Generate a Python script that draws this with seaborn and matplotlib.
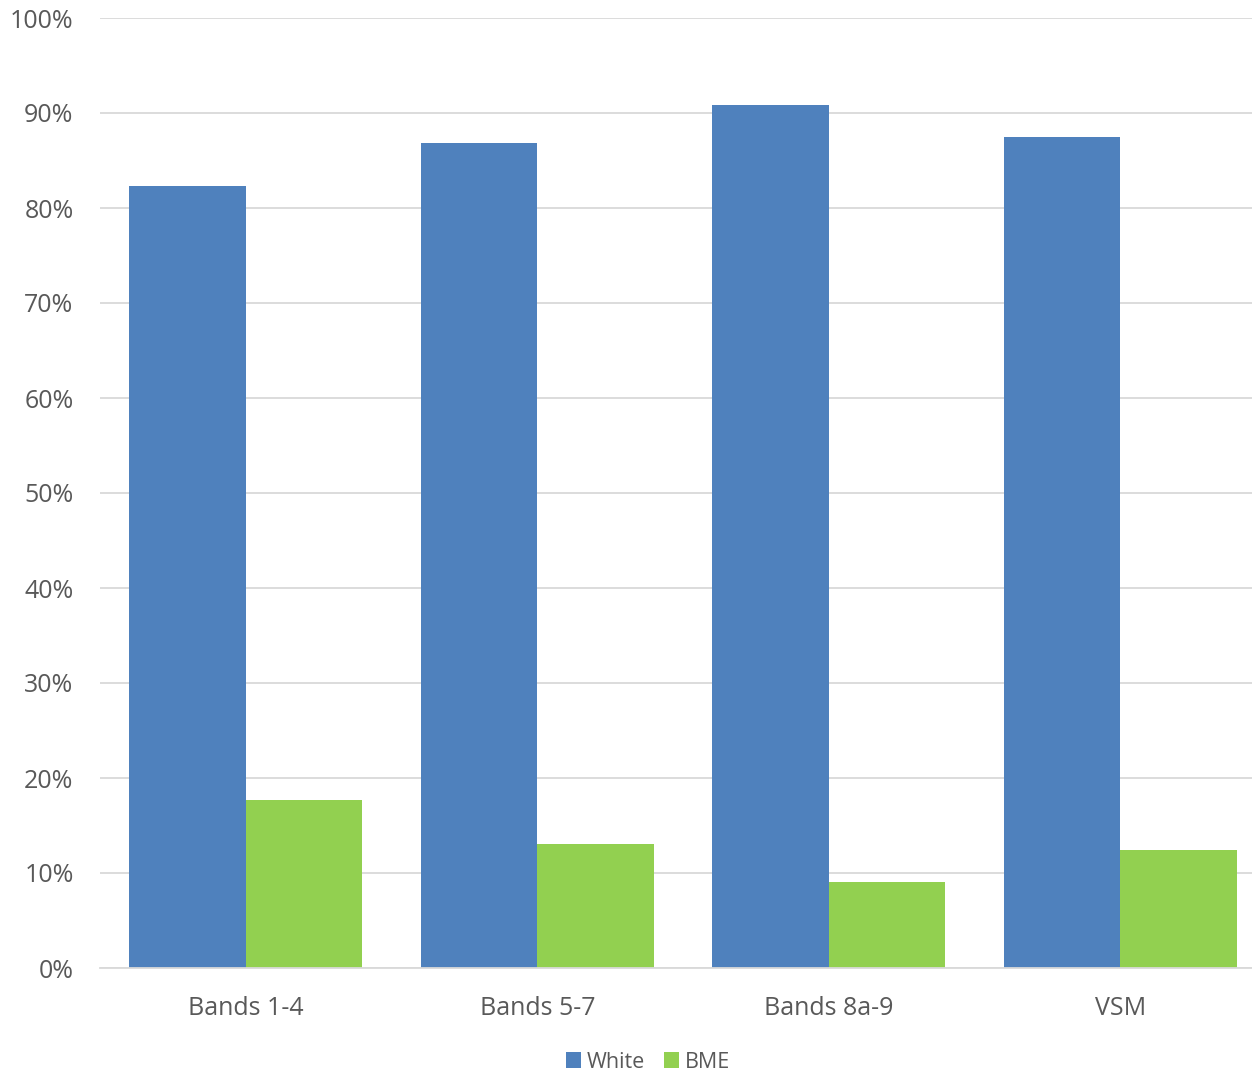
import pandas as pd
import numpy as np
import seaborn as sns
import matplotlib.pyplot as plt
from matplotlib.ticker import PercentFormatter

# data
categories = ['Bands 1-4', 'Bands 5-7', 'Bands 8a-9', 'VSM']
white = [82.3, 86.8, 90.8, 87.5]
bme = [17.7, 13.1, 9.1, 12.4]

df = pd.DataFrame({
    'band': categories * 2,
    'group': ['White'] * 4 + ['BME'] * 4,
    'value': white + bme,
})

sns.set_style('white')
plt.rcParams['font.family'] = ['Open Sans', 'DejaVu Sans']

fig = plt.figure(figsize=(12.52, 10.73), dpi=100)
# plot area runs a little past the right edge, as in the original
ax = fig.add_axes([100 / 1252, 1 - 968 / 1073, 1166 / 1252, 950 / 1073])

sns.barplot(data=df, x='band', y='value', hue='group', order=categories,
            hue_order=['White', 'BME'], palette=['#4F81BD', '#92D050'],
            width=0.8, saturation=1, linewidth=0, ax=ax, legend=True)

ax.set_ylim(0, 100)
ax.set_yticks(np.arange(0, 101, 10))
ax.yaxis.set_major_formatter(PercentFormatter(decimals=0))
ax.grid(axis='y', color='#D9D9D9', linewidth=1.3)
ax.set_axisbelow(True)
for s in ['left', 'right', 'top']:
    ax.spines[s].set_visible(False)
ax.spines['bottom'].set_color('#D9D9D9')
ax.spines['bottom'].set_linewidth(1.3)
ax.tick_params(axis='both', length=0, labelsize=18, colors='#595959')
ax.tick_params(axis='x', pad=20)
ax.tick_params(axis='y', pad=19)
ax.set_xlabel('')
ax.set_ylabel('')

handles, labels = ax.get_legend_handles_labels()
ax.get_legend().remove()
leg = fig.legend(handles, labels, loc='center', bbox_to_anchor=(648 / 1252, 1 - 1062 / 1073),
                 ncol=2, frameon=False, fontsize=15.5, handlelength=0.7,
                 handleheight=0.7, handletextpad=0.25, columnspacing=0.9)
for t in leg.get_texts():
    t.set_color('#595959')

fig.savefig('out.png', dpi=100)
